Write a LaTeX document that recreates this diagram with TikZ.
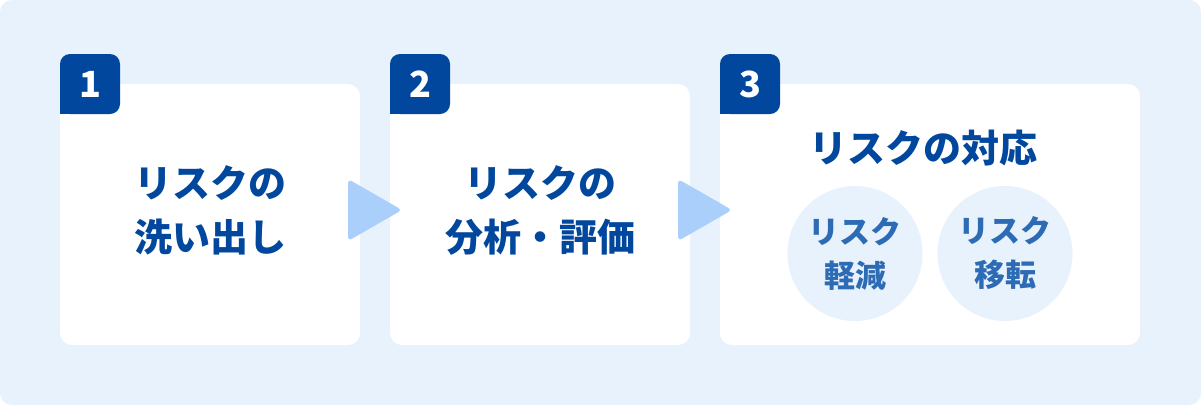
\documentclass[tikz,border=0pt]{standalone}
\usepackage{fontspec}
\setmainfont{Noto Sans CJK JP}
\newfontfamily\jpfont{Noto Sans CJK JP}
\usetikzlibrary{positioning}
\definecolor{bgc}{HTML}{E8F2FD}
\definecolor{badgec}{HTML}{00479D}
\definecolor{arrowc}{HTML}{ABCFFB}
\definecolor{subc}{HTML}{2D6BB5}
\tikzset{
  x=1pt,y=-1pt,
  card/.style={fill=white,rounded corners=12pt,inner sep=0pt},
  badge/.style={fill=badgec,rounded corners=10pt},
  numtext/.style={text=white,font=\jpfont\bfseries\fontsize{36}{36}\selectfont,inner sep=0pt},
  maintext/.style={text=badgec,font=\jpfont\bfseries\fontsize{38}{54}\selectfont,align=center,inner sep=0pt},
  subcircle/.style={circle,fill=bgc,minimum size=135pt,inner sep=0pt,text=subc,font=\jpfont\bfseries\fontsize{31}{44}\selectfont,align=center},
  tri/.style={fill=arrowc,rounded corners=4pt},
}
\begin{document}
\begin{tikzpicture}
\useasboundingbox (0,0) rectangle (1201,405);
\fill[bgc,rounded corners=12pt] (0,0) rectangle (1201,405);
% cards
\fill[card] (60,84) rectangle (360,345);
\fill[card] (390,84) rectangle (690,345);
\fill[card] (720,84) rectangle (1140,345);
% badges
\foreach \x/\n in {60/1,390/2,720/3}{
  \fill[badge] (\x,54) rectangle (\x+60,114);
  \fill[badgec] (\x,90) rectangle (\x+30,114);
  \node[numtext] (n\n) at (\x+30,84) {\n};
}
% texts
\node[maintext] (t1) at (210,210) {リスクの\\洗い出し};
\node[maintext] (t2) at (540,210) {リスクの\\分析・評価};
\node[maintext] (t3) at (923,148) {リスクの対応};
\node[subcircle] (s1) at (855,253.5) {リスク\\軽減};
\node[subcircle] (s2) at (1005,253.5) {リスク\\移転};
% arrows
\fill[tri] (348,179) -- (402,210) -- (348,241) -- cycle;
\fill[tri] (678,179) -- (732,210) -- (678,241) -- cycle;
\end{tikzpicture}
\end{document}
